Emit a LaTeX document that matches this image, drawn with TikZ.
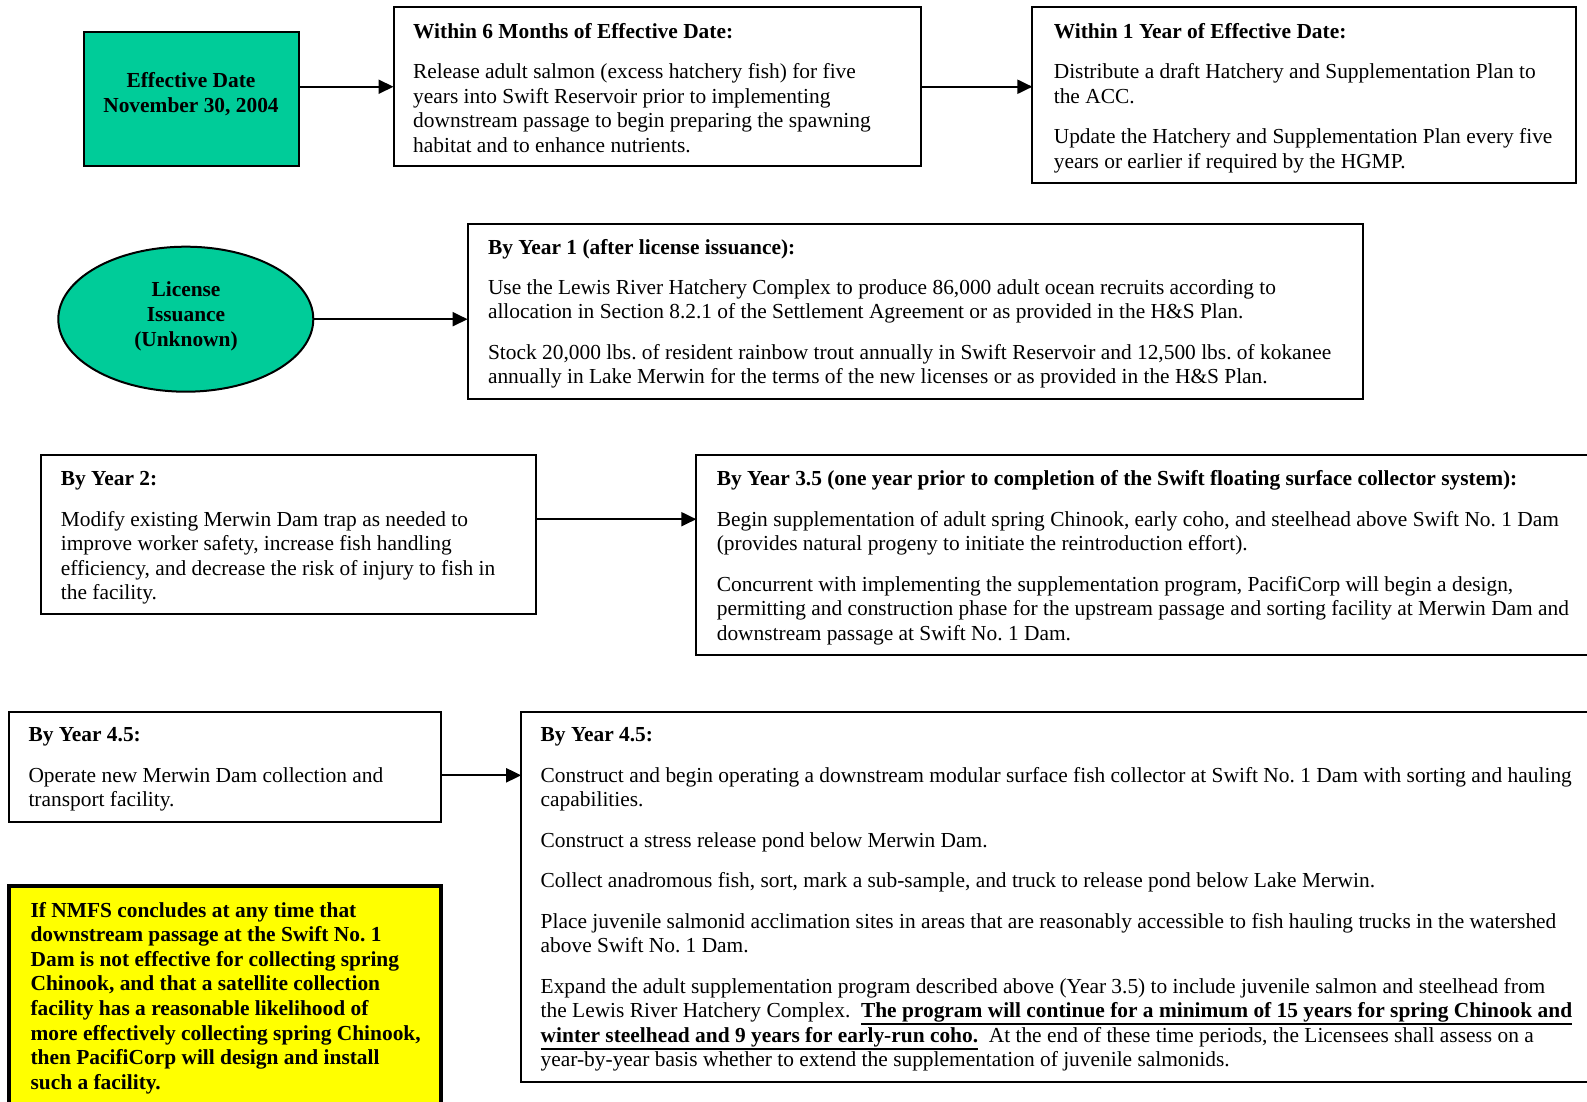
\documentclass[tikz,border=0pt]{standalone}
\usepackage{fontspec}
\setmainfont{Liberation Serif}
\usetikzlibrary{arrows.meta,shapes.geometric}
\definecolor{boxgreen}{RGB}{0,204,153}
\definecolor{noteyellow}{RGB}{255,255,0}
\newcommand\txtsz{\fontsize{21.4}{24.6}\selectfont}
\newcommand\gapp{\\[15.8pt]}
\newcommand\boxtext[1]{\begin{minipage}[t]{1200pt}\raggedright\frenchspacing\txtsz #1\end{minipage}}
\newcommand\ulbold[1]{\leavevmode\setbox0\hbox{\textbf{#1}}\rlap{\vrule height -5.3pt depth 7.4pt width\wd0}\box0}
\tikzset{
  box/.style={draw, line width=2pt, anchor=north west, inner sep=0pt, outer sep=0pt},
  txt/.style={anchor=base west, inner sep=0pt},
  ctxt/.style={anchor=base, inner sep=0pt, align=center},
  arr/.style={line width=2pt, -{Triangle[length=15pt,width=14pt]}}
}
\begin{document}
\begin{tikzpicture}[x=1pt,y=-1pt]
\useasboundingbox (0,0) rectangle (1587,1102);
\clip (0,0) rectangle (1587,1102);
\fill[white] (0,0) rectangle (1587,1102);

% row 1
\node[box, fill=boxgreen, minimum width=215pt, minimum height=134pt] (eff) at (84,32) {};
\node[ctxt, font=\bfseries\fontsize{21.4}{25.3}\selectfont] (efft) at (191,112.6) {Effective Date\\November 30, 2004};

\node[box, minimum width=527.5pt, minimum height=158.5pt] (m6) at (393.5,7.5) {};
\node[txt] (m6t) at (413,38.4) {\boxtext{\textbf{Within 6 Months of Effective Date:}\gapp
Release adult salmon (excess hatchery fish) for five\\
years into Swift Reservoir prior to implementing\\
downstream passage to begin preparing the spawning\\
habitat and to enhance nutrients.}};

\node[box, minimum width=543.5pt, minimum height=176pt] (y1e) at (1032.4,7.2) {};
\node[txt] (y1et) at (1053.6,38.4) {\boxtext{\textbf{Within 1 Year of Effective Date:}\gapp
Distribute a draft Hatchery and Supplementation Plan to\\
the ACC.\gapp
Update the Hatchery and Supplementation Plan every five\\
years or earlier if required by the HGMP.}};

% row 2
\node[draw, line width=2pt, fill=boxgreen, ellipse, inner sep=0pt, minimum width=255pt, minimum height=145pt] (lic) at (185.8,319.2) {};
\node[ctxt, font=\bfseries\fontsize{21.4}{24.8}\selectfont] (lict) at (186,346) {License\\Issuance\\(Unknown)};

\node[box, minimum width=895.7pt, minimum height=175.1pt] (yr1) at (467.6,223.7) {};
\node[txt] (yr1t) at (487.8,254) {\boxtext{\textbf{By Year 1 (after license issuance):}\gapp
Use the Lewis River Hatchery Complex to produce 86,000 adult ocean recruits according to\\
allocation in Section 8.2.1 of the Settlement Agreement or as provided in the H\&S Plan.\gapp
Stock 20,000 lbs. of resident rainbow trout annually in Swift Reservoir and 12,500 lbs. of kokanee\\
annually in Lake Merwin for the terms of the new licenses or as provided in the H\&S Plan.}};

% row 3
\node[box, minimum width=495.9pt, minimum height=159pt] (yr2) at (40.5,455.4) {};
\node[txt] (yr2t) at (60.7,485.7) {\boxtext{\textbf{By Year 2:}\gapp
Modify existing Merwin Dam trap as needed to\\
improve worker safety, increase fish handling\\
efficiency, and decrease the risk of injury to fish in\\
the facility.}};

\node[box, minimum width=910pt, minimum height=199.4pt] (yr35) at (696.3,455.4) {};
\node[txt] (yr35t) at (716.6,485.7) {\boxtext{\textbf{By Year 3.5 (one year prior to completion of the Swift floating surface collector system):}\gapp
Begin supplementation of adult spring Chinook, early coho, and steelhead above Swift No. 1 Dam\\
(provides natural progeny to initiate the reintroduction effort).\gapp
Concurrent with implementing the supplementation program, PacifiCorp will begin a design,\\
permitting and construction phase for the upstream passage and sorting facility at Merwin Dam and\\
downstream passage at Swift No. 1 Dam.}};

% row 4
\node[box, minimum width=432.2pt, minimum height=110.3pt] (yr45a) at (9.1,711.5) {};
\node[txt] (yr45at) at (28.3,741.8) {\boxtext{\textbf{By Year 4.5:}\gapp
Operate new Merwin Dam collection and\\
transport facility.}};

\node[box, minimum width=1085pt, minimum height=370.4pt] (yr45b) at (521.2,711.5) {};
\node[txt] (yr45bt) at (540.5,741.8) {\boxtext{\textbf{By Year 4.5:}\gapp
Construct and begin operating a downstream modular surface fish collector at Swift No. 1 Dam with sorting and hauling\\
capabilities.\gapp
Construct a stress release pond below Merwin Dam.\gapp
Collect anadromous fish, sort, mark a sub-sample, and truck to release pond below Lake Merwin.\gapp
Place juvenile salmonid acclimation sites in areas that are reasonably accessible to fish hauling trucks in the watershed\\
above Swift No. 1 Dam.\gapp
Expand the adult supplementation program described above (Year 3.5) to include juvenile salmon and steelhead from\\
the Lewis River Hatchery Complex.\ \ \ulbold{The program will continue for a minimum of 15 years for spring Chinook and}\\
\ulbold{winter steelhead and 9 years for early-run coho.}\ \ At the end of these time periods, the Licensees shall assess on a\\
year-by-year basis whether to extend the supplementation of juvenile salmonids.}};

% note
\node[draw, line width=4pt, fill=noteyellow, anchor=north west, inner sep=0pt, outer sep=0pt, minimum width=432pt, minimum height=240pt] (note) at (9,885.6) {};
\node[txt] (notet) at (30.4,917) {\boxtext{\bfseries If NMFS concludes at any time that\\
downstream passage at the Swift No. 1\\
Dam is not effective for collecting spring\\
Chinook, and that a satellite collection\\
facility has a reasonable likelihood of\\
more effectively collecting spring Chinook,\\
then PacifiCorp will design and install\\
such a facility.}};

% connectors
\draw[arr] (eff.east |- m6.west) -- (m6.west);
\draw[arr] (m6.east) -- (y1e.west |- m6.east);
\draw[arr] (lic.east) -- (yr1.west |- lic.east);
\draw[arr] (yr2.east |- 0,519.2) -- (yr35.west |- 0,519.2);
\draw[arr] (yr45a.east |- 0,775.3) -- (yr45b.west |- 0,775.3);
\end{tikzpicture}
\end{document}
